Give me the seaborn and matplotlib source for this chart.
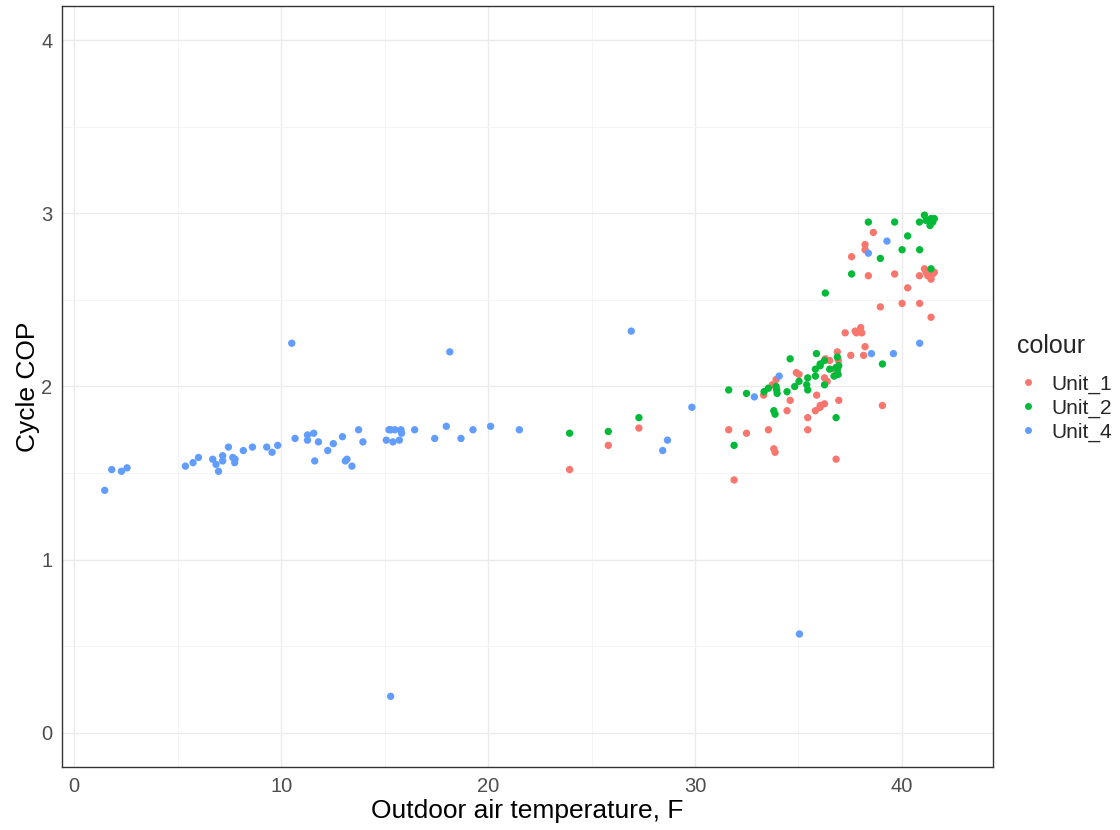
import matplotlib
matplotlib.use("Agg")
import matplotlib.pyplot as plt
from matplotlib.ticker import MultipleLocator
from matplotlib.lines import Line2D
import seaborn as sns
import pandas as pd

# ---- data ----
unit1_x = [23.94, 25.81, 27.29, 31.63, 31.89, 32.49, 33.32, 33.55, 33.74, 33.92, 33.81, 33.87,
           34.45, 34.60, 34.90, 35.03, 35.45, 35.45, 35.82, 35.88, 36.05, 36.05, 36.26, 36.26,
           36.39, 36.30, 36.51, 36.82, 36.88, 36.93, 36.74, 36.88, 36.95, 37.26, 37.74, 38.01,
           37.80, 38.06, 38.22, 38.15, 37.53, 37.57, 38.22, 38.22, 38.62, 38.38, 39.65, 38.96,
           39.06, 40.01, 40.28, 40.86, 41.41, 40.85, 41.09, 41.17, 41.33, 41.49, 41.57, 41.41, 41.25]
unit1_y = [1.52, 1.66, 1.76, 1.75, 1.46, 1.73, 1.95, 1.75, 2.01, 2.04, 1.64, 1.62,
           1.86, 1.92, 2.08, 2.07, 1.82, 1.75, 1.86, 1.95, 1.89, 1.88, 1.90, 2.05,
           2.03, 2.16, 2.15, 1.58, 2.20, 2.15, 2.10, 2.08, 1.92, 2.31, 2.32, 2.34,
           2.31, 2.31, 2.23, 2.18, 2.18, 2.75, 2.82, 2.79, 2.89, 2.64, 2.65, 2.46,
           1.89, 2.48, 2.57, 2.48, 2.40, 2.64, 2.68, 2.66, 2.65, 2.65, 2.66, 2.62, 2.64]

unit2_x = [23.94, 25.81, 27.29, 31.63, 31.89, 32.49, 33.34, 33.55, 33.92, 33.95, 33.97, 33.81,
           33.87, 34.45, 34.60, 34.82, 35.03, 35.40, 35.45, 35.45, 35.82, 35.82, 35.87, 36.05,
           36.05, 36.26, 36.26, 36.30, 36.51, 36.82, 36.88, 36.95, 36.88, 36.72, 36.92, 36.82,
           37.57, 38.38, 38.96, 39.06, 39.65, 40.01, 40.28, 40.86, 41.41, 40.85, 41.09, 41.17,
           41.41, 41.57, 41.36, 41.49]
unit2_y = [1.73, 1.74, 1.82, 1.98, 1.66, 1.96, 1.97, 1.99, 2.00, 1.98, 1.96, 1.86,
           1.84, 1.97, 2.16, 2.00, 2.03, 2.01, 2.05, 1.98, 2.10, 2.06, 2.19, 2.13,
           2.12, 2.15, 2.01, 2.54, 2.10, 2.11, 2.17, 2.12, 2.10, 2.06, 2.07, 1.82,
           2.65, 2.95, 2.74, 2.13, 2.95, 2.79, 2.87, 2.79, 2.68, 2.95, 2.99, 2.96,
           2.97, 2.97, 2.93, 2.95]

unit4_x = [1.47, 1.81, 2.28, 2.55, 5.37, 5.74, 6.00, 6.69, 6.85, 6.97, 7.17, 7.17, 7.45, 7.66,
           7.77, 7.75, 8.17, 8.61, 9.30, 9.56, 9.83, 10.51, 10.67, 11.27, 11.27, 11.57, 11.80,
           11.62, 12.25, 12.52, 12.96, 13.10, 13.18, 13.42, 13.74, 13.95, 15.08, 15.21, 15.29,
           15.50, 15.79, 15.82, 15.40, 15.71, 15.29, 16.45, 17.42, 17.98, 18.15, 18.69, 19.27,
           20.12, 21.51, 26.92, 28.44, 28.67, 29.85, 32.87, 34.07, 35.05, 38.38, 39.28, 38.53,
           39.59, 40.86]
unit4_y = [1.40, 1.52, 1.51, 1.53, 1.54, 1.56, 1.59, 1.58, 1.55, 1.51, 1.60, 1.57, 1.65, 1.59,
           1.58, 1.56, 1.63, 1.65, 1.65, 1.62, 1.66, 2.25, 1.70, 1.72, 1.69, 1.73, 1.68,
           1.57, 1.63, 1.67, 1.71, 1.57, 1.58, 1.54, 1.75, 1.68, 1.69, 1.75, 1.75,
           1.75, 1.75, 1.73, 1.68, 1.69, 0.21, 1.75, 1.70, 1.77, 2.20, 1.70, 1.75,
           1.77, 1.75, 2.32, 1.63, 1.69, 1.88, 1.94, 2.06, 0.57, 2.77, 2.84, 2.19,
           2.19, 2.25]

units = ["Unit_1", "Unit_2", "Unit_4"]
colors = ["#F8766D", "#00BA38", "#619CFF"]
x_label = "Outdoor air temperature, F"
y_label = "Cycle COP"
legend_title = "colour"

df = pd.DataFrame({
    "x": unit1_x + unit2_x + unit4_x,
    "y": unit1_y + unit2_y + unit4_y,
    "unit": [units[0]] * len(unit1_x) + [units[1]] * len(unit2_x) + [units[2]] * len(unit4_x),
})

sns.set_style("white")
plt.rcParams["font.family"] = ["Liberation Sans", "DejaVu Sans"]

fig = plt.figure(figsize=(11.2, 8.3), dpi=100)
ax = fig.add_axes([62.3 / 1120, 1 - 767.3 / 830, (992.7 - 62.3) / 1120, (767.3 - 5.7) / 830])

sns.scatterplot(data=df, x="x", y="y", hue="unit", hue_order=units,
                palette=dict(zip(units, colors)), s=28, linewidth=0,
                ax=ax, legend=False, zorder=3)

ax.set_xlim(-0.58, 44.39)
ax.set_ylim(-0.20, 4.20)
ax.xaxis.set_major_locator(MultipleLocator(10))
ax.xaxis.set_minor_locator(MultipleLocator(5))
ax.yaxis.set_major_locator(MultipleLocator(1))
ax.yaxis.set_minor_locator(MultipleLocator(0.5))
ax.grid(True, which="major", color="#EBEBEB", linewidth=1.0, zorder=0)
ax.grid(True, which="minor", color="#F2F2F2", linewidth=0.6, zorder=0)
ax.set_axisbelow(True)
for s in ax.spines.values():
    s.set_color("#333333")
    s.set_linewidth(1.0)
ax.tick_params(axis="both", which="major", direction="out", length=4, width=1,
               color="#333333", labelcolor="#4D4D4D", labelsize=14.5, pad=3)
ax.tick_params(axis="both", which="minor", length=0)
ax.set_xlabel(x_label, fontsize=19, color="black", labelpad=2)
ax.set_ylabel(y_label, fontsize=19, color="black", labelpad=1)

handles = [Line2D([0], [0], marker="o", linestyle="", markersize=5,
                  markerfacecolor=c, markeredgewidth=0) for c in colors]
leg = fig.legend(handles, units, title=legend_title, loc="upper left",
                 bbox_to_anchor=(1017 / 1120, 1 - 334 / 830), frameon=False,
                 fontsize=15, title_fontsize=18, handletextpad=0.55,
                 labelspacing=0.22, handlelength=1.1, borderaxespad=0,
                 borderpad=0)
leg._legend_box.align = "left"
leg._legend_box.sep = 12

fig.savefig("out.png", dpi=100)
